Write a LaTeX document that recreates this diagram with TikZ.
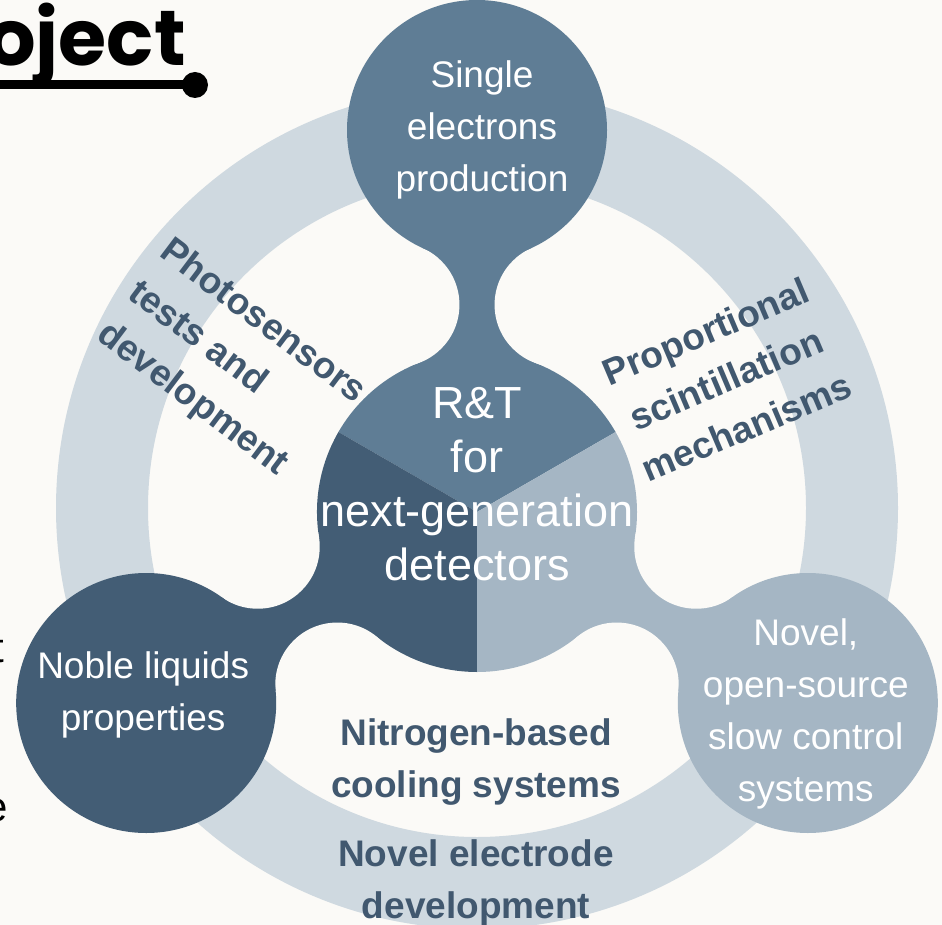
\documentclass[tikz,border=0pt]{standalone}
\usepackage{fontspec}
\usetikzlibrary{calc}
\setmainfont{Liberation Sans}
\newfontfamily\titlefont{Poppins}
\definecolor{bgcol}{HTML}{FBFAF7}
\definecolor{ringcol}{HTML}{CFD9E0}
\definecolor{topcol}{HTML}{5F7D95}
\definecolor{darkcol}{HTML}{435D75}
\definecolor{lightcol}{HTML}{A5B6C4}
\definecolor{labelcol}{HTML}{41586F}
\tikzset{
  satnode/.style={circle, inner sep=0pt, minimum size=260pt},
  sattext/.style={text=white, align=center, font=\fontsize{37}{52}\selectfont},
  boldtext/.style={text=labelcol, align=center, font=\fontsize{37}{52}\selectfont\bfseries},
}
\begin{document}
\begin{tikzpicture}[x=1pt, y=1pt]
    \useasboundingbox (0,0) rectangle (942,-925);
    \fill[bgcol] (0,0) rectangle (942,-925);
    \clip (0,0) rectangle (942,-925);
    \coordinate (c) at (477,-512);
    \coordinate (ringc) at (477,-508);
    \fill[ringcol, even odd rule] (ringc) circle (421) (ringc) circle (329);
    \foreach \a/\col in {90/topcol, 210/darkcol, 330/lightcol}{
        \fill[\col] (c) -- ++(\a-60:160) arc[start angle=\a-60, end angle=\a+60, radius=160] -- cycle;
        \fill[\col] (c) -- ($(c)+(\a+21:222)$) -- ($(c)+(\a:382)$) -- ($(c)+(\a-21:222)$) -- cycle;
        \fill[bgcol] ($(c)+(\a+21:222)$) circle (62);
        \fill[bgcol] ($(c)+(\a-21:222)$) circle (62);
    }
    \node[satnode, fill=topcol] (single) at ($(c)+(90:382)$) {};
    \node[satnode, fill=darkcol] (noble) at ($(c)+(210:382)$) {};
    \node[satnode, fill=lightcol] (novel) at ($(c)+(330:382)$) {};
    \node[sattext] (singletxt) at ([xshift=5pt, yshift=0pt]single.center) {Single\\electrons\\production};
    \node[sattext] (nobletxt) at ([xshift=-3pt, yshift=8pt]noble.center) {Noble liquids\\properties};
    \node[sattext] (noveltxt) at ([xshift=-2pt, yshift=-11pt]novel.center) {Novel,\\open-source\\slow control\\systems};
    \node[text=white, align=center, font=\fontsize{45}{54}\selectfont] (rt) at (477,-484.5) {R\&T\\for\\next-generation\\detectors};
    \node[boldtext, rotate=-37, align=left] (photo) at (231,-364) {Photosensors\\tests and\\development};
    \node[boldtext, rotate=23] (prop) at (726,-379) {Proportional\\scintillation\\mechanisms};
    \node[boldtext] (nitro) at (476,-762) {Nitrogen-based\\cooling systems};
    \node[boldtext] (electrode) at (476,-883) {Novel electrode\\development};
    \node[anchor=base west, inner sep=0pt, font=\titlefont\fontsize{78}{78}\selectfont\bfseries] (title) at (-14,-66) {oject};
    \coordinate (titleend) at (195,-85);
    \draw[line width=9pt] (-5,-85) -- (titleend);
    \fill (titleend) circle (13);
    \node[anchor=base east, inner sep=0pt, font=\fontsize{42}{42}\selectfont] (fragt) at (4,-662) {t};
    \node[anchor=base east, inner sep=0pt, font=\fontsize{42}{42}\selectfont] (frage) at (8,-821) {e};
\end{tikzpicture}
\end{document}
